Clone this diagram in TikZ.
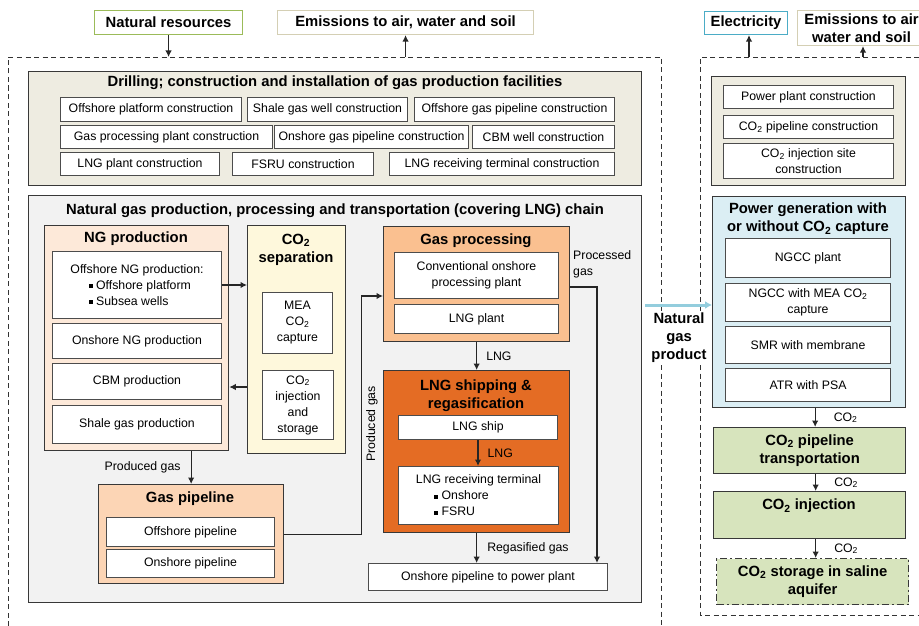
\documentclass[tikz,border=0pt]{standalone}
\usepackage{fontspec}
\setmainfont{Liberation Sans}
\usepackage{xcolor}
\usetikzlibrary{arrows.meta,positioning}

\definecolor{drillfill}{HTML}{EEECE1}
\definecolor{chainfill}{HTML}{F2F2F2}
\definecolor{ngfill}{HTML}{FDE9D9}
\definecolor{sepfill}{HTML}{FEF8DC}
\definecolor{procfill}{HTML}{FAC090}
\definecolor{shipfill}{HTML}{E46C24}
\definecolor{pipefill}{HTML}{FCD5B5}
\definecolor{powerfill}{HTML}{DBEEF4}
\definecolor{ccsfill}{HTML}{D7E4BD}
\definecolor{resline}{HTML}{9BBB59}
\definecolor{emisline}{HTML}{D4CFB4}
\definecolor{elecline}{HTML}{4BACC6}
\definecolor{gasarrow}{HTML}{93CDDD}

\newcommand\smallsize{\fontsize{12.3}{16}\selectfont}
\newcommand\headsize{\fontsize{14.8}{18}\selectfont}
\newcommand\cotwo{CO\textsubscript{2}}
\newcommand\sqbul{\raisebox{1.4pt}{\rule{3.8pt}{3.8pt}}}

\begin{document}
\begin{tikzpicture}[x=1pt,y=-1pt,
  every node/.style={inner sep=0pt,font=\smallsize},
  sz/.style 2 args={minimum width=#1pt,minimum height=#2pt,anchor=north west},
  item/.style={draw=black!70,line width=1pt,fill=white,align=center},
  panel/.style={draw=black!78,line width=1.3pt},
  head/.style={font=\bfseries\headsize,align=center},
  tag/.style={draw,line width=1.1pt,fill=white,font=\bfseries\headsize,align=center},
  arrow/.style={-{Latex[length=6.5pt,width=6.5pt]},line width=1.2pt,draw=black!85},
  note/.style={font=\smallsize,align=left},
  border/.style={dash pattern=on 5pt off 3.5pt,line width=0.9pt,draw=black!80}
]
\useasboundingbox (0,0) rectangle (919,626);

% inputs and outputs
\node[tag,draw=resline,sz={148}{24}] (natres) at (94,10) {Natural resources};
\node[tag,draw=emisline,sz={256}{24}] (emis) at (277,10) {Emissions to air, water and soil};
\node[tag,draw=elecline,sz={83}{23}] (elec) at (704,11) {Electricity};
\node[tag,draw=emisline,sz={128}{35}] (emis2) at (797,10) {Emissions to air\\water and soil};

% system boundaries
\draw[border] (8,626) -- (8,57) -- (661,57) -- (661,626);
\draw[border] (919,57) -- (700,57) -- (700,615) -- (919,615);
\coordinate (resin) at (169,57);
\coordinate (emisout) at (405,57);
\coordinate (elecout) at (749,57);
\coordinate (emis2out) at (863,57);
\draw[arrow] (natres.south) -- (natres.south |- resin);
\draw[arrow] (emis.south |- emisout) -- (emis.south);
\draw[arrow] (elecout) -- (elecout |- elec.south);
\draw[arrow] (emis2out) -- (emis2out |- emis2.south);

% construction
\node[panel,fill=drillfill,sz={613}{114}] (drill) at (28,71) {};
\node[head] (drillT) at (335,83) {Drilling; construction and installation of gas production facilities};
\node[item,sz={181}{24}] (opc) at (60,97) {Offshore platform construction};
\node[item,sz={160}{24}] (sgc) at (247,97) {Shale gas well construction};
\node[item,sz={200}{24}] (ogpc) at (414,97) {Offshore gas pipeline construction};
\node[item,sz={212}{23}] (gppc) at (60,125) {Gas processing plant construction};
\node[item,sz={194}{23}] (onpc) at (274,125) {Onshore gas pipeline construction};
\node[item,sz={142}{23}] (cbmc) at (472,125) {CBM well construction};
\node[item,sz={159}{23}] (lngpc) at (60,152) {LNG plant construction};
\node[item,sz={141}{23}] (fsruc) at (232,152) {FSRU construction};
\node[item,sz={225}{23}] (lngtc) at (389,152) {LNG receiving terminal construction};

% gas chain
\node[panel,fill=chainfill,sz={613}{407}] (chain) at (28,195) {};
\node[head] (chainT) at (335,211) {Natural gas production, processing and transportation (covering LNG) chain};

\node[panel,fill=ngfill,sz={184}{225}] (ngprod) at (44,225) {};
\node[head] (ngprodT) at (136,239) {NG production};
\node[item,sz={169}{67},align=left] (offng) at (52,251) {Offshore NG production:\\\hspace{1.5em}\sqbul\ Offshore platform\\\hspace{1.5em}\sqbul\ Subsea wells};
\node[item,sz={169}{35}] (onng) at (52,323) {Onshore NG production};
\node[item,sz={169}{36}] (cbm) at (52,363) {CBM production};
\node[item,sz={169}{38}] (shale) at (52,405) {Shale gas production};

\node[panel,fill=sepfill,sz={98}{228}] (sep) at (247,225) {};
\node[head] (sepT) at (296,250) {CO\textsubscript{2}\\separation};
\node[item,sz={70}{61}] (mea) at (262,292) {MEA\\\cotwo\\capture};
\node[item,sz={71}{69}] (inj) at (262,370) {\cotwo\\injection\\and\\storage};
\draw[arrow] (offng.east) -- (offng.east -| sep.west);
\draw[arrow] ([yshift=-162pt]sep.north west) -- ([yshift=-162pt]ngprod.north east);

\node[panel,fill=procfill,sz={186}{115}] (gproc) at (383,226) {};
\node[head] (gprocT) at (476,241) {Gas processing};
\node[item,sz={164}{46}] (conv) at (394,252) {Conventional onshore\\processing plant};
\node[item,sz={164}{29}] (lngplant) at (394,304) {LNG plant};

\node[panel,fill=shipfill,sz={186}{162}] (lngship) at (383,370) {};
\node[head] (lngshipT) at (476,396) {LNG shipping \&\\regasification};
\node[item,sz={159}{24}] (ship) at (398,415) {LNG ship};
\node[item,sz={160}{58},align=left] (recv) at (398,466) {LNG receiving terminal\\\hspace{1.5em}\sqbul\ Onshore\\\hspace{1.5em}\sqbul\ FSRU};
\draw[arrow] (gproc.south) -- (lngship.north) node[midway,right=9pt] {LNG};
\draw[arrow] (ship.south) -- (ship.south |- recv.north) node[midway,right=9pt] {LNG};

\node[item,sz={239}{27}] (onpipe) at (368,563) {Onshore pipeline to power plant};
\draw[arrow] (lngship.south) -- (lngship.south |- onpipe.north) node[midway,right=10pt] {Regasified gas};
\draw[arrow] ([yshift=-61pt]gproc.north east) -| ([xshift=-11pt]onpipe.north east);
\node[note,anchor=north west] (procgas) at (573,250) {Processed\\gas};

\node[panel,fill=pipefill,sz={185}{99}] (gpipe) at (98,484) {};
\node[head] (gpipeT) at (190,499) {Gas pipeline};
\node[item,sz={168}{29}] (offpipe) at (106,517) {Offshore pipeline};
\node[item,sz={168}{28}] (onpipe2) at (106,549) {Onshore pipeline};
\draw[arrow] (gpipe.north |- ngprod.south) -- (gpipe.north) node[midway,left=10pt] {Produced gas};
\draw[arrow] (gpipe.east) -- ++(77,0) |- ([yshift=-70pt]gproc.north west);
\node[rotate=90] (prodgas) at (372,424) {Produced gas};

% power plant and CCS
\node[panel,fill=drillfill,sz={194}{109}] (cons) at (711,76) {};
\node[item,sz={170}{23}] (ppc) at (723,85) {Power plant construction};
\node[item,sz={170}{23}] (co2pc) at (723,115) {\cotwo{} pipeline construction};
\node[item,sz={170}{35}] (co2isc) at (723,143) {\cotwo{} injection site\\construction};

\node[panel,fill=powerfill,sz={193}{211}] (power) at (712,196) {};
\node[head] (powerT) at (808,219) {Power generation with\\or without \cotwo{} capture};
\node[item,sz={165}{39}] (ngcc) at (725,238) {NGCC plant};
\node[item,sz={165}{38}] (ngccmea) at (725,283) {NGCC with MEA \cotwo\\capture};
\node[item,sz={165}{37}] (smr) at (725,326) {SMR with membrane};
\node[item,sz={165}{33}] (atr) at (725,368) {ATR with PSA};

\node[panel,fill=ccsfill,sz={192}{46},font=\bfseries\headsize,align=center] (co2pipe) at (713,427) {\cotwo{} pipeline\\transportation};
\node[panel,fill=ccsfill,sz={192}{47}] (co2inj) at (713,491) {};
\node[head] (co2injT) at (809,506) {\cotwo{} injection};
\node[panel,fill=ccsfill,sz={192}{46},dash pattern=on 7pt off 3pt on 2pt off 3pt,font=\bfseries\headsize,align=center] (store) at (716,558) {\cotwo{} storage in saline\\aquifer};

\draw[arrow] ([xshift=6pt]power.south) -- ([xshift=6pt]power.south |- co2pipe.north) node[midway,right=18pt] {\cotwo};
\draw[arrow] ([xshift=6pt]co2pipe.south) -- ([xshift=6pt]co2pipe.south |- co2inj.north) node[midway,right=18pt] {\cotwo};
\draw[arrow] ([xshift=6pt]co2inj.south) -- ([xshift=6pt]co2inj.south |- store.north) node[midway,right=18pt] {\cotwo};

% natural gas product
\coordinate (ngout) at (645,305);
\node[head,fill=white,inner sep=1pt] (ngprodL) at (679,338) {Natural\\gas\\product};
\draw[-{Latex[length=7pt,width=8pt]},line width=3pt,draw=gasarrow] (ngout) -- ([yshift=-109pt]power.north west);
\end{tikzpicture}
\end{document}
